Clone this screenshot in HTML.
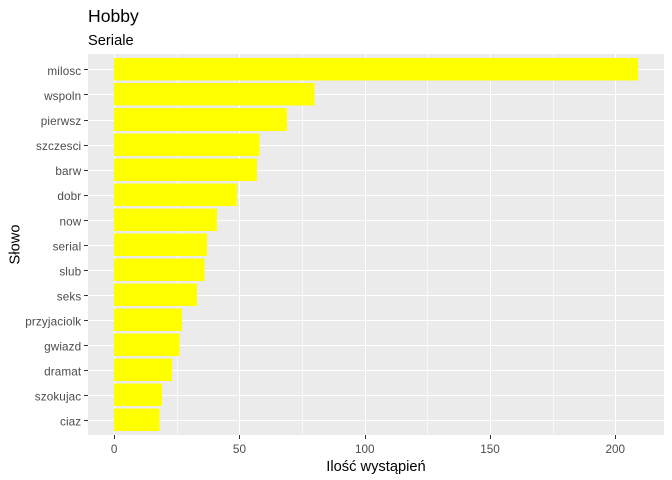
<!DOCTYPE html>
<html lang="pl">
<head>
<meta charset="utf-8">
<title>Hobby - Seriale</title>
<style>
html,body{margin:0;padding:0;background:#fff;width:672px;height:480px;overflow:hidden}
svg{display:block;font-family:"Liberation Sans",Arial,sans-serif}
</style>
</head>
<body>
<svg id="chart" width="672" height="480" viewBox="0 0 672 480" xmlns="http://www.w3.org/2000/svg">
<rect x="0" y="0" width="672" height="480" fill="#ffffff"/>
<rect x="88" y="54" width="576" height="381" fill="#EBEBEB"/>
<g id="grid" shape-rendering="crispEdges"></g>
<g id="bars" shape-rendering="crispEdges"></g>
<g id="xaxis"></g>
<g id="yaxis"></g>
<text x="88" y="22" font-size="17.6" fill="#000000">Hobby</text>
<text x="88" y="45" font-size="14.67" fill="#000000">Seriale</text>
<text x="376" y="471" font-size="14.67" text-anchor="middle" fill="#000000">Ilość wystąpień</text>
<text transform="translate(19.5 244.5) rotate(-90)" font-size="14.67" text-anchor="middle" fill="#000000">Słowo</text>
</svg>
<script>
const categories = ["milosc","wspoln","pierwsz","szczesci","barw","dobr","now","serial","slub","seks","przyjaciolk","gwiazd","dramat","szokujac","ciaz"];
const counts = [209,80,69,58,57,49,41,37,36,33,27,26,23,19,18];
const xTicks = [0,50,100,150,200];
const xMinorTicks = [25,75,125,175];

const NS = "http://www.w3.org/2000/svg";
const panelLeft = 88, panelRight = 664, scaleTop = 54.4, scaleBottom = 435;
const panelTop = 54, panelBottom = 435;
const maxValue = Math.max.apply(null, counts.concat(xTicks));
// x scale follows ggplot's 5% continuous expansion over the value range
function xScale(v) {
  const width = panelRight - panelLeft;
  return panelLeft + width * (v + maxValue * 0.05) / (maxValue * 1.1);
}
// y scale follows ggplot's 0.6 discrete expansion
const bandStep = (scaleBottom - scaleTop) / (categories.length + 0.2);
function yScale(i) {
  return scaleTop + bandStep * (0.6 + i);
}
// lines land on whole pixel columns/rows
function snap(p) {
  return Math.round(p) + 0.5;
}

function make(tag, attrs, parent) {
  const el = document.createElementNS(NS, tag);
  for (const k in attrs) el.setAttribute(k, attrs[k]);
  parent.appendChild(el);
  return el;
}
const grid = document.getElementById("grid");
const bars = document.getElementById("bars");
const xaxis = document.getElementById("xaxis");
const yaxis = document.getElementById("yaxis");

xMinorTicks.forEach(function (t) {
  const el = make("line", {x1: snap(xScale(t)), x2: snap(xScale(t)), y1: panelTop, y2: panelBottom, stroke: "#f8f8f8", "stroke-width": 1}, grid);
  
  
});
xTicks.forEach(function (t) {
  const el = make("line", {x1: snap(xScale(t)), x2: snap(xScale(t)), y1: panelTop, y2: panelBottom, stroke: "#ffffff", "stroke-width": 1}, grid);
  
  
});
categories.forEach(function (c, i) {
  const el = make("line", {x1: panelLeft, x2: panelRight, y1: snap(yScale(i)), y2: snap(yScale(i)), stroke: "#ffffff", "stroke-width": 1}, grid);
  
  
});

counts.forEach(function (v, i) {
  const h = bandStep * 0.9;
  const el = make("rect", {x: xScale(0), y: yScale(i) - h / 2, width: xScale(v) - xScale(0), height: h, fill: "#FFFF00"}, bars);
  
  
});

xTicks.forEach(function (t) {
  const tick = make("line", {x1: snap(xScale(t)), x2: snap(xScale(t)), y1: panelBottom, y2: panelBottom + 4, stroke: "#333333", "stroke-width": 1, "shape-rendering": "crispEdges"}, xaxis);
  
  
  const label = make("text", {x: xScale(t), y: 453, "font-size": 11.73, "text-anchor": "middle", fill: "#4D4D4D"}, xaxis);
  
  
  label.textContent = t;
});
categories.forEach(function (c, i) {
  const tick = make("line", {x1: panelLeft - 4, x2: panelLeft, y1: snap(yScale(i)), y2: snap(yScale(i)), stroke: "#333333", "stroke-width": 1, "shape-rendering": "crispEdges"}, yaxis);
  
  
  const label = make("text", {x: 81.3, y: yScale(i) + 5.6, "font-size": 11.73, "letter-spacing": 0.12, "text-anchor": "end", fill: "#4D4D4D"}, yaxis);
  
  
  label.textContent = c;
});
</script>
</body>
</html>
